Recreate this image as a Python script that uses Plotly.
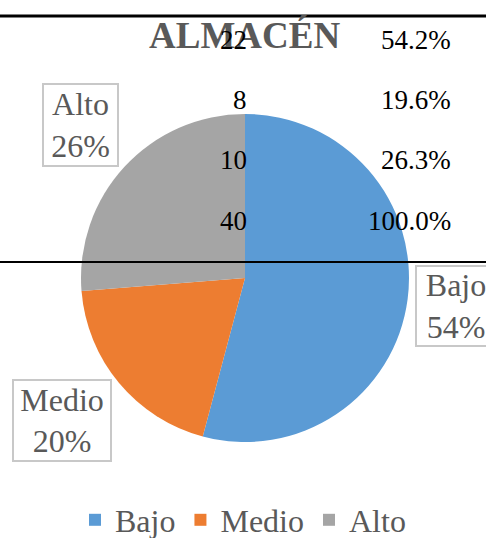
import plotly.graph_objects as go

# data
categories = ['Bajo', 'Medio', 'Alto']
shares = [54.2, 19.6, 26.3]
colors = ['#5b9bd5', '#ed7d31', '#a5a5a5']

table_counts = ['22', '8', '10', '40']
table_pcts = ['54.2%', '19.6%', '26.3%', '100.0%']

W, H = 486, 538
serif = 'Liberation Serif, Times New Roman, serif'


def px(x):
    return x / W


def py(y):
    return (H - y) / H


fig = go.Figure()
fig.add_trace(go.Pie(
    labels=categories,
    values=shares,
    sort=False,
    direction='clockwise',
    rotation=0,
    marker=dict(colors=colors, line=dict(width=0)),
    textinfo='none',
    hoverinfo='label+percent',
    domain=dict(x=[px(245 - 164), px(245 + 164)], y=[py(278 + 164), py(278 - 164)]),
))

# callout labels around the pie: centre x, centre y, box width, box height
total = sum(shares)
box_pos = {'Bajo': (456, 306, 82, 82), 'Medio': (62, 420, 100, 83), 'Alto': (80, 125, 77, 84)}
annotations = []
for cat, v in zip(categories, shares):
    cx, cy, w, h = box_pos[cat]
    annotations.append(dict(
        x=px(cx), y=py(cy), xref='paper', yref='paper',
        xanchor='center', yanchor='middle',
        text=f'{cat}<br>{round(v / total * 100)}%',
        showarrow=False, width=w - 6, height=h - 6,
        bgcolor='white', bordercolor='#c8c8c8', borderwidth=2, borderpad=1,
        font=dict(family=serif, size=32, color='#595959'),
    ))

# title
annotations.append(dict(
    x=px(244), y=py(35), xref='paper', yref='paper', text='<b>ALMACÉN</b>',
    xanchor='center', yanchor='middle',
    showarrow=False, font=dict(family=serif, size=37, color='#595959'),
))

# overlaid table
row_y = [40, 100, 160, 221]
for i, (c, p) in enumerate(zip(table_counts, table_pcts)):
    annotations.append(dict(
        x=px(249), y=py(row_y[i]), xref='paper', yref='paper', text=c,
        showarrow=False, xanchor='right', yanchor='middle',
        font=dict(family=serif, size=27, color='black'),
    ))
    annotations.append(dict(
        x=px(453), y=py(row_y[i]), xref='paper', yref='paper', text=p,
        showarrow=False, xanchor='right', yanchor='middle',
        font=dict(family=serif, size=27, color='black'),
    ))

shapes = [
    dict(type='line', xref='paper', yref='paper', x0=0, x1=1, y0=py(16), y1=py(16),
         line=dict(color='black', width=3)),
    dict(type='line', xref='paper', yref='paper', x0=0, x1=1, y0=py(262), y1=py(262),
         line=dict(color='black', width=2)),
]

fig.update_layout(
    width=W, height=H,
    margin=dict(l=0, r=0, t=0, b=0, autoexpand=False),
    paper_bgcolor='white',
    plot_bgcolor='white',
    annotations=annotations,
    shapes=shapes,
    showlegend=True,
    legend=dict(
        orientation='h', x=0.5, xanchor='center', y=py(520), yanchor='middle',
        font=dict(family=serif, size=32, color='#595959'),
        itemwidth=30, tracegroupgap=0,
    ),
)

fig.write_html('out.html', config={'displayModeBar': False},
               post_script="document.body.style.margin='0';")
